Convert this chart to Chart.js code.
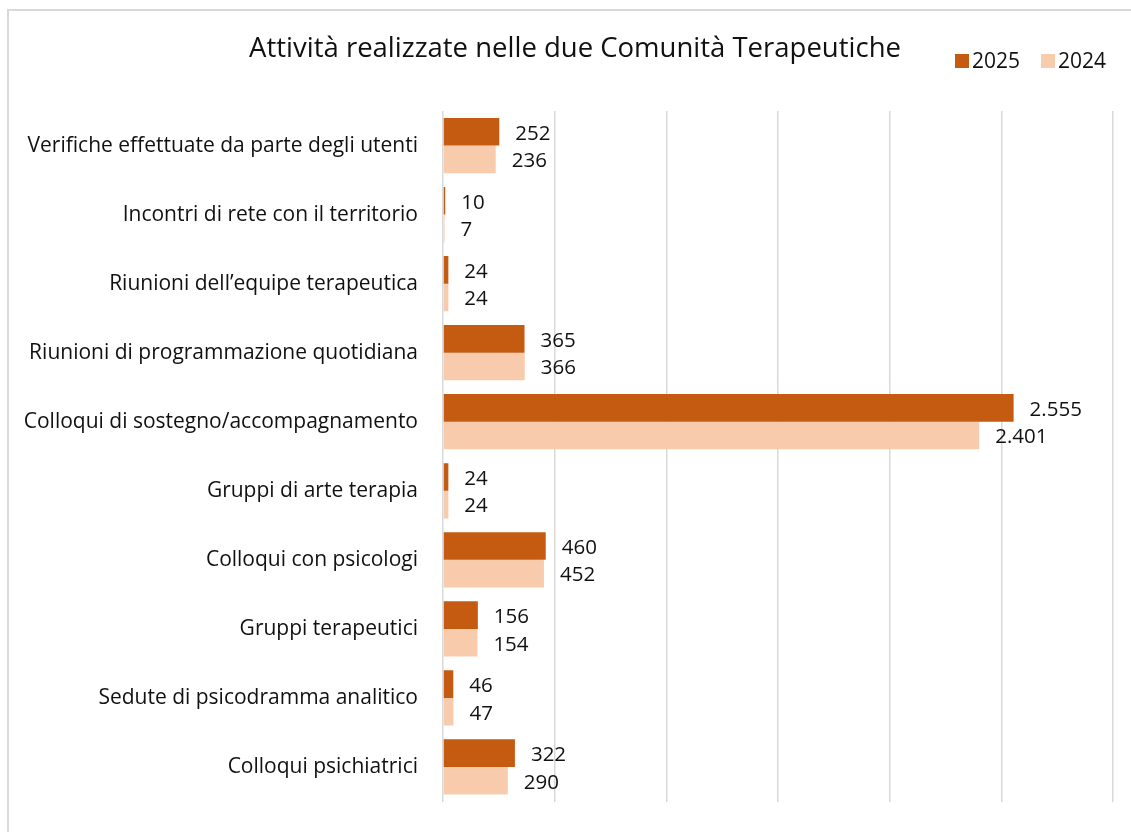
<!DOCTYPE html>
<html>
<head>
<meta charset="utf-8">
<script src="https://cdn.jsdelivr.net/npm/chart.js@4.4.1/dist/chart.umd.min.js"></script>
<style>
  html, body { margin: 0; padding: 0; background: #fff; }
  #wrap { position: relative; width: 1131px; height: 832px; overflow: hidden; }
  #frame { position: absolute; left: 7px; top: 9px; width: 1200px; height: 900px;
           border-top: 2px solid #d9d9d9; border-left: 2px solid #d9d9d9; box-sizing: border-box; }
  canvas { position: absolute; left: 0; top: 0; }
</style>
</head>
<body>
<div id="wrap">
  <div id="frame"></div>
  <canvas id="c" width="1131" height="832"></canvas>
</div>
<script>
const categories = [
  "Verifiche effettuate da parte degli utenti",
  "Incontri di rete con il territorio",
  "Riunioni dell\u2019equipe terapeutica",
  "Riunioni di programmazione quotidiana",
  "Colloqui di sostegno/accompagnamento",
  "Gruppi di arte terapia",
  "Colloqui con psicologi",
  "Gruppi terapeutici",
  "Sedute di psicodramma analitico",
  "Colloqui psichiatrici"
];
const values2025 = [252, 10, 24, 365, 2555, 24, 460, 156, 46, 322];
const values2024 = [236, 7, 24, 366, 2401, 24, 452, 154, 47, 290];
const seriesNames = ["2025", "2024"];
const titleText = "Attivit\u00e0 realizzate nelle due Comunit\u00e0 Terapeutiche";

const FONT = "'Open Sans', sans-serif";

function fmt(v) {
  return String(v).replace(/\B(?=(\d{3})+(?!\d))/g, ".");
}

const valueLabels = {
  id: 'valueLabels',
  afterDatasetsDraw(chart) {
    const ctx = chart.ctx;
    ctx.save();
    ctx.font = "20.5px " + FONT;
    ctx.fillStyle = "#111";
    ctx.textAlign = "left";
    ctx.textBaseline = "middle";
    chart.data.datasets.forEach((ds, i) => {
      const meta = chart.getDatasetMeta(i);
      meta.data.forEach((bar, j) => {
        ctx.fillText(fmt(ds.data[j]), bar.x + 16, bar.y + 2);
      });
    });
    ctx.restore();
  }
};

const titleAndLegend = {
  id: 'titleAndLegend',
  afterDraw(chart) {
    const ctx = chart.ctx;
    ctx.save();
    // title
    ctx.font = "27.5px " + FONT;
    ctx.fillStyle = "#111";
    ctx.textAlign = "center";
    ctx.textBaseline = "middle";
    ctx.fillText(titleText, 575, 49);
    // legend
    ctx.font = "21px " + FONT;
    ctx.textAlign = "left";
    let x = 955;
    const y = 61;
    chart.data.datasets.forEach((ds) => {
      ctx.fillStyle = ds.backgroundColor;
      ctx.fillRect(x, y - 7, 14, 14);
      ctx.fillStyle = "#111";
      ctx.fillText(ds.label, x + 17, y + 1);
      x += 17 + ctx.measureText(ds.label).width + 21;
    });
    ctx.restore();
  }
};

new Chart(document.getElementById('c'), {
  type: 'bar',
  data: {
    labels: categories,
    datasets: [
      { label: seriesNames[0], data: values2025, backgroundColor: '#C55A11',
        categoryPercentage: 0.8, barPercentage: 1.0 },
      { label: seriesNames[1], data: values2024, backgroundColor: '#F8CBAD',
        categoryPercentage: 0.8, barPercentage: 1.0 }
    ]
  },
  options: {
    indexAxis: 'y',
    responsive: false,
    animation: false,
    layout: { padding: { left: 0, right: 18, top: 111, bottom: 30.5 } },
    plugins: {
      legend: { display: false },
      tooltip: { enabled: false },
      title: { display: false }
    },
    scales: {
      x: {
        min: 0, max: 3000,
        ticks: { display: false, stepSize: 500 },
        grid: { color: '#d9d9d9', lineWidth: 1.5, drawTicks: false },
        border: { display: false }
      },
      y: {
        ticks: { color: '#111', font: { family: FONT, size: 21 }, padding: 25 },
        grid: { display: false, drawTicks: false, tickLength: 0 },
        border: { display: false },
        afterFit(scale) {
          scale.width = 443;
          scale.paddingTop = 0;
          scale.paddingBottom = 0;
        }
      }
    }
  },
  plugins: [valueLabels, titleAndLegend]
});
</script>
</body>
</html>
